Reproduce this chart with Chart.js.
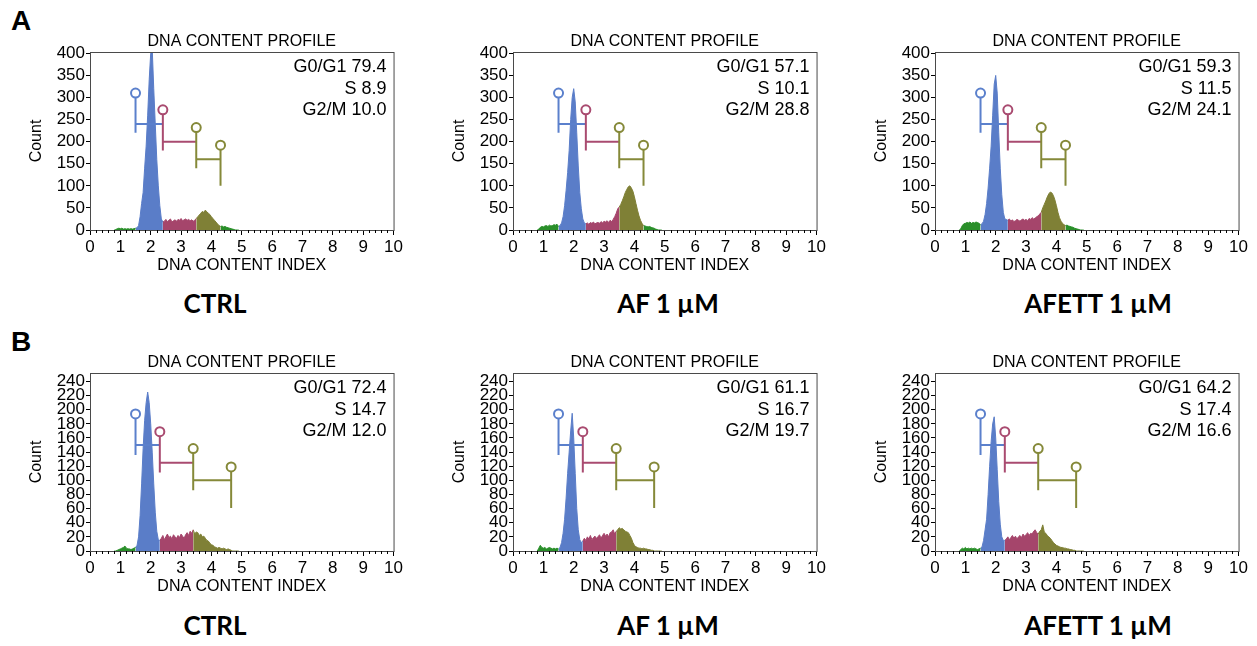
<!DOCTYPE html>
<html>
<head>
<meta charset="utf-8">
<script src="https://cdn.jsdelivr.net/npm/chart.js@4.4.1/dist/chart.umd.min.js"></script>
<style>
  body { margin: 0; background: #fff; width: 1257px; height: 646px; position: relative; overflow: hidden; }
  canvas { position: absolute; }
  .letter { position: absolute; font: bold 28px "Liberation Sans", Arial, sans-serif; line-height: 1; }
  .cond { position: absolute; width: 300px; text-align: center; font: bold 26px Lato, "Liberation Sans", sans-serif; line-height: 1; }
</style>
</head>
<body>
<div class="letter" style="left:11px;top:7px">A</div>
<div class="letter" style="left:11px;top:328px">B</div>
<div class="cond" style="left:65px;top:290px">CTRL</div>
<div class="cond" style="left:518px;top:290px">AF 1 µM</div>
<div class="cond" style="left:948px;top:290px">AFETT 1 µM</div>
<div class="cond" style="left:65px;top:612px">CTRL</div>
<div class="cond" style="left:518px;top:612px">AF 1 µM</div>
<div class="cond" style="left:948px;top:612px">AFETT 1 µM</div>

<canvas id="ctrlA" width="390" height="253"></canvas>
<canvas id="afA" width="390" height="253"></canvas>
<canvas id="afettA" width="390" height="253"></canvas>
<canvas id="ctrlB" width="390" height="253"></canvas>
<canvas id="afB" width="390" height="253"></canvas>
<canvas id="afettB" width="390" height="253"></canvas>

<script>
// histogram bins: DNA content index 0.80 .. 4.90, bin width 0.05
const dnaStart = 0.8;
const dnaStep = 0.05;

// counts per bin (rows of 10 bins)
const ctrlA = [
  0, 1, 3, 4, 3, 4, 2, 3, 2, 3,
  2, 3, 2, 3, 4, 5, 10, 30, 60, 85,
  140, 190, 260, 340, 400, 410, 320, 240, 160, 100,
  55, 25, 18, 20, 24, 19, 22, 25, 18, 21,
  23, 20, 24, 22, 26, 21, 23, 25, 22, 24,
  21, 23, 20, 22, 26, 30, 34, 38, 42, 40,
  45, 41, 38, 35, 30, 26, 22, 18, 14, 10,
  8, 9, 7, 8, 6, 5, 4, 3, 2, 1,
  0, 0, 0
];
const afA = [
  0, 2, 6, 8, 7, 9, 10, 8, 11, 9,
  10, 12, 11, 13, 8, 10, 16, 30, 55, 90,
  130, 180, 250, 300, 320, 290, 220, 145, 85, 48,
  25, 16, 14, 16, 13, 17, 15, 18, 14, 16,
  17, 15, 19, 16, 20, 18, 21, 17, 22, 19,
  24, 30, 38, 48, 52, 58, 66, 75, 85, 92,
  98, 100, 95, 88, 75, 60, 45, 32, 22, 15,
  10, 9, 8, 7, 8, 6, 5, 4, 2, 1,
  0, 0, 0
];
const afettA = [
  0, 3, 10, 14, 15, 17, 16, 18, 15, 17,
  16, 18, 17, 15, 12, 14, 20, 35, 60, 95,
  140, 190, 260, 330, 350, 310, 220, 140, 80, 40,
  25, 24, 22, 25, 20, 23, 19, 21, 24, 22,
  20, 23, 25, 22, 24, 21, 26, 24, 28, 25,
  27, 30, 32, 36, 40, 50, 58, 66, 75, 82,
  86, 84, 78, 68, 55, 40, 28, 20, 15, 12,
  10, 11, 9, 8, 7, 6, 4, 3, 2, 1,
  0, 0, 0
];
const ctrlB = [
  0, 0, 1, 2, 3, 4, 5, 7, 4, 3,
  3, 2, 3, 4, 5, 8, 20, 50, 95, 145,
  185, 210, 225, 210, 180, 140, 95, 55, 28, 16,
  15, 18, 22, 16, 20, 24, 19, 21, 17, 23,
  20, 18, 22, 19, 24, 21, 18, 23, 26, 22,
  28, 25, 30, 24, 27, 26, 22, 24, 20, 21,
  18, 15, 14, 11, 9, 8, 6, 5, 4, 5,
  4, 3, 4, 3, 2, 3, 2, 1, 0, 0,
  0, 0, 0
];
const afB = [
  0, 4, 8, 5, 4, 5, 3, 4, 5, 4,
  3, 4, 3, 4, 3, 5, 12, 25, 45, 75,
  110, 140, 170, 195, 160, 110, 60, 30, 16, 12,
  14, 18, 15, 20, 17, 22, 16, 19, 21, 18,
  20, 23, 18, 22, 25, 21, 24, 20, 26, 27,
  30, 24, 28, 30, 33, 31, 32, 30, 28, 27,
  26, 22, 18, 12, 8, 6, 5, 4, 4, 3,
  4, 3, 3, 2, 2, 1, 1, 0, 0, 0,
  0, 0, 0
];
const afettB = [
  0, 2, 4, 3, 5, 3, 4, 3, 4, 3,
  4, 3, 2, 3, 4, 6, 15, 30, 45, 80,
  120, 155, 180, 190, 160, 115, 70, 38, 20, 15,
  15, 17, 20, 16, 19, 22, 18, 21, 17, 20,
  22, 19, 24, 21, 23, 26, 22, 25, 24, 28,
  30, 26, 24, 28, 30, 37, 27, 25, 22, 20,
  18, 15, 12, 10, 8, 7, 6, 5, 5, 4,
  4, 3, 3, 2, 2, 1, 1, 0, 0, 0,
  0, 0, 0
];

// phase percentages shown in each panel
const statsCtrlA = ['G0/G1 79.4', 'S 8.9', 'G2/M 10.0'];
const statsAfA = ['G0/G1 57.1', 'S 10.1', 'G2/M 28.8'];
const statsAfettA = ['G0/G1 59.3', 'S 11.5', 'G2/M 24.1'];
const statsCtrlB = ['G0/G1 72.4', 'S 14.7', 'G2/M 12.0'];
const statsAfB = ['G0/G1 61.1', 'S 16.7', 'G2/M 19.7'];
const statsAfettB = ['G0/G1 64.2', 'S 17.4', 'G2/M 16.6'];

// gate markers: x position, circle top, line bottom, bar level
const gatesA = [1.5, 2.4, 3.5, 4.3];
const gateTopsA = [310, 272, 232, 192];
const gateBottomsA = [220, 180, 140, 100];
const gateBarsA = [240, 200, 160];
const gatesB = [1.5, 2.3, 3.4, 4.65];
const gateTopsB = [194, 169, 145, 119];
const gateBottomsB = [136, 111, 86, 61];
const gateBarsB = [150, 125, 100];

const xTicks = [0, 1, 2, 3, 4, 5, 6, 7, 8, 9, 10];
const yTicksA = [0, 50, 100, 150, 200, 250, 300, 350, 400];
const yTicksB = [0, 20, 40, 60, 80, 100, 120, 140, 160, 180, 200, 220, 240];

const fillColors = { debris: '#2a8f2a', g1: '#5a7dc8', s: '#a5456b', g2: '#7f8036' };
const gateColors = ['#5b80cc', '#a94b70', '#858939', '#858939'];

Chart.defaults.font.family = '"Liberation Sans", Arial, sans-serif';
Chart.defaults.font.size = 16;
Chart.defaults.color = '#000';

function binX(i) {
  return Math.round((dnaStart + i * dnaStep) * 100) / 100;
}

function phaseData(counts, lo, hi) {
  const pts = [];
  counts.forEach((c, i) => {
    const x = binX(i);
    if (x >= lo - 1e-6 && x <= hi + 1e-6) pts.push({ x: x, y: c });
  });
  return pts;
}

function histSet(points, color) {
  return {
    data: points, fill: 'origin', backgroundColor: color, borderColor: color,
    borderWidth: 1, pointRadius: 0, tension: 0, order: 2
  };
}

const panelDeco = {
  id: 'panelDeco',
  afterDraw(chart, args, opts) {
    const { ctx, chartArea: a } = chart;
    const x = chart.scales.x;
    ctx.save();
    ctx.strokeStyle = '#4a4a4a';
    ctx.lineWidth = 1;
    ctx.strokeRect(a.left + 0.5, a.top + 0.5, a.right - a.left, a.bottom - a.top);
    // minor ticks every 0.2
    ctx.strokeStyle = '#000';
    ctx.beginPath();
    for (let k = 1; k < 50; k++) {
      if (k % 5 === 0) continue;
      const px = Math.round(x.getPixelForValue(k / 5)) + 0.5;
      ctx.moveTo(px, a.bottom);
      ctx.lineTo(px, a.bottom + 3);
    }
    ctx.stroke();
    ctx.fillStyle = '#000';
    ctx.font = '16px "Liberation Sans", Arial, sans-serif';
    ctx.textAlign = 'center';
    ctx.fillText('DNA CONTENT PROFILE', (a.left + a.right) / 2, a.top - 6);
    ctx.textAlign = 'right';
    ctx.font = '18px "Liberation Sans", Arial, sans-serif';
    opts.stats.forEach((s, i) => ctx.fillText(s, a.right - 7, a.top + 20 + i * 21.7));
    ctx.restore();
  }
};

function drawPanel(id, counts, stats, row, left, top) {
  const gates = row === 'A' ? gatesA : gatesB;
  const tops = row === 'A' ? gateTopsA : gateTopsB;
  const bottoms = row === 'A' ? gateBottomsA : gateBottomsB;
  const bars = row === 'A' ? gateBarsA : gateBarsB;
  const yTicks = row === 'A' ? yTicksA : yTicksB;

  const datasets = [
    histSet(phaseData(counts, 0, gates[0]), fillColors.debris),
    histSet(phaseData(counts, gates[0], gates[1]), fillColors.g1),
    histSet(phaseData(counts, gates[1], gates[2]), fillColors.s),
    histSet(phaseData(counts, gates[2], gates[3]), fillColors.g2),
    histSet(phaseData(counts, gates[3], 5), row === 'A' ? fillColors.debris : fillColors.g2)
  ];
  // gate markers
  gates.forEach((g, i) => {
    datasets.push({
      data: [{ x: g, y: bottoms[i] }, { x: g, y: tops[i] }],
      borderColor: gateColors[i], borderWidth: 2, fill: false, order: 0,
      pointRadius: [0, 4.5], pointBackgroundColor: '#fff',
      pointBorderColor: gateColors[i], pointBorderWidth: 2
    });
  });
  bars.forEach((b, i) => {
    datasets.push({
      data: [{ x: gates[i], y: b }, { x: gates[i + 1], y: b }],
      borderColor: gateColors[i], borderWidth: 2, fill: false, pointRadius: 0, order: 1
    });
  });

  const canvas = document.getElementById(id);
  canvas.style.left = (left - 75) + 'px';
  canvas.style.top = (top - 30) + 'px';

  new Chart(canvas.getContext('2d'), {
    type: 'line',
    data: { datasets: datasets },
    options: {
      responsive: false,
      animation: false,
      layout: { padding: { left: 0, top: 30, right: 10, bottom: 0 } },
      plugins: {
        legend: { display: false },
        tooltip: { enabled: false },
        panelDeco: { stats: stats }
      },
      scales: {
        x: {
          type: 'linear', min: 0, max: 10,
          afterBuildTicks: s => { s.ticks = xTicks.map(v => ({ value: v })); },
          afterFit: s => { s.height = 45; },
          grid: { drawOnChartArea: false, tickLength: 5, color: '#000' },
          border: { color: '#000' },
          ticks: { padding: 2, maxRotation: 0, autoSkip: false, font: { size: 17 } },
          title: { display: true, text: 'DNA CONTENT INDEX', padding: { top: 0, bottom: 0 } }
        },
        y: {
          type: 'linear', min: 0, max: row === 'A' ? 403 : 252,
          afterBuildTicks: s => { s.ticks = yTicks.map(v => ({ value: v })); },
          afterFit: s => { s.width = 75; },
          grid: { drawOnChartArea: false, tickLength: 4, color: '#000' },
          border: { color: '#000' },
          ticks: { padding: 1, autoSkip: false, font: { size: 17 } },
          title: { display: true, text: 'Count', padding: { top: 12, bottom: 0 } }
        }
      }
    },
    plugins: [panelDeco]
  });
}

drawPanel('ctrlA', ctrlA, statsCtrlA, 'A', 90, 52);
drawPanel('afA', afA, statsAfA, 'A', 513, 52);
drawPanel('afettA', afettA, statsAfettA, 'A', 935, 52);
drawPanel('ctrlB', ctrlB, statsCtrlB, 'B', 90, 373);
drawPanel('afB', afB, statsAfB, 'B', 513, 373);
drawPanel('afettB', afettB, statsAfettB, 'B', 935, 373);
</script>
</body>
</html>
